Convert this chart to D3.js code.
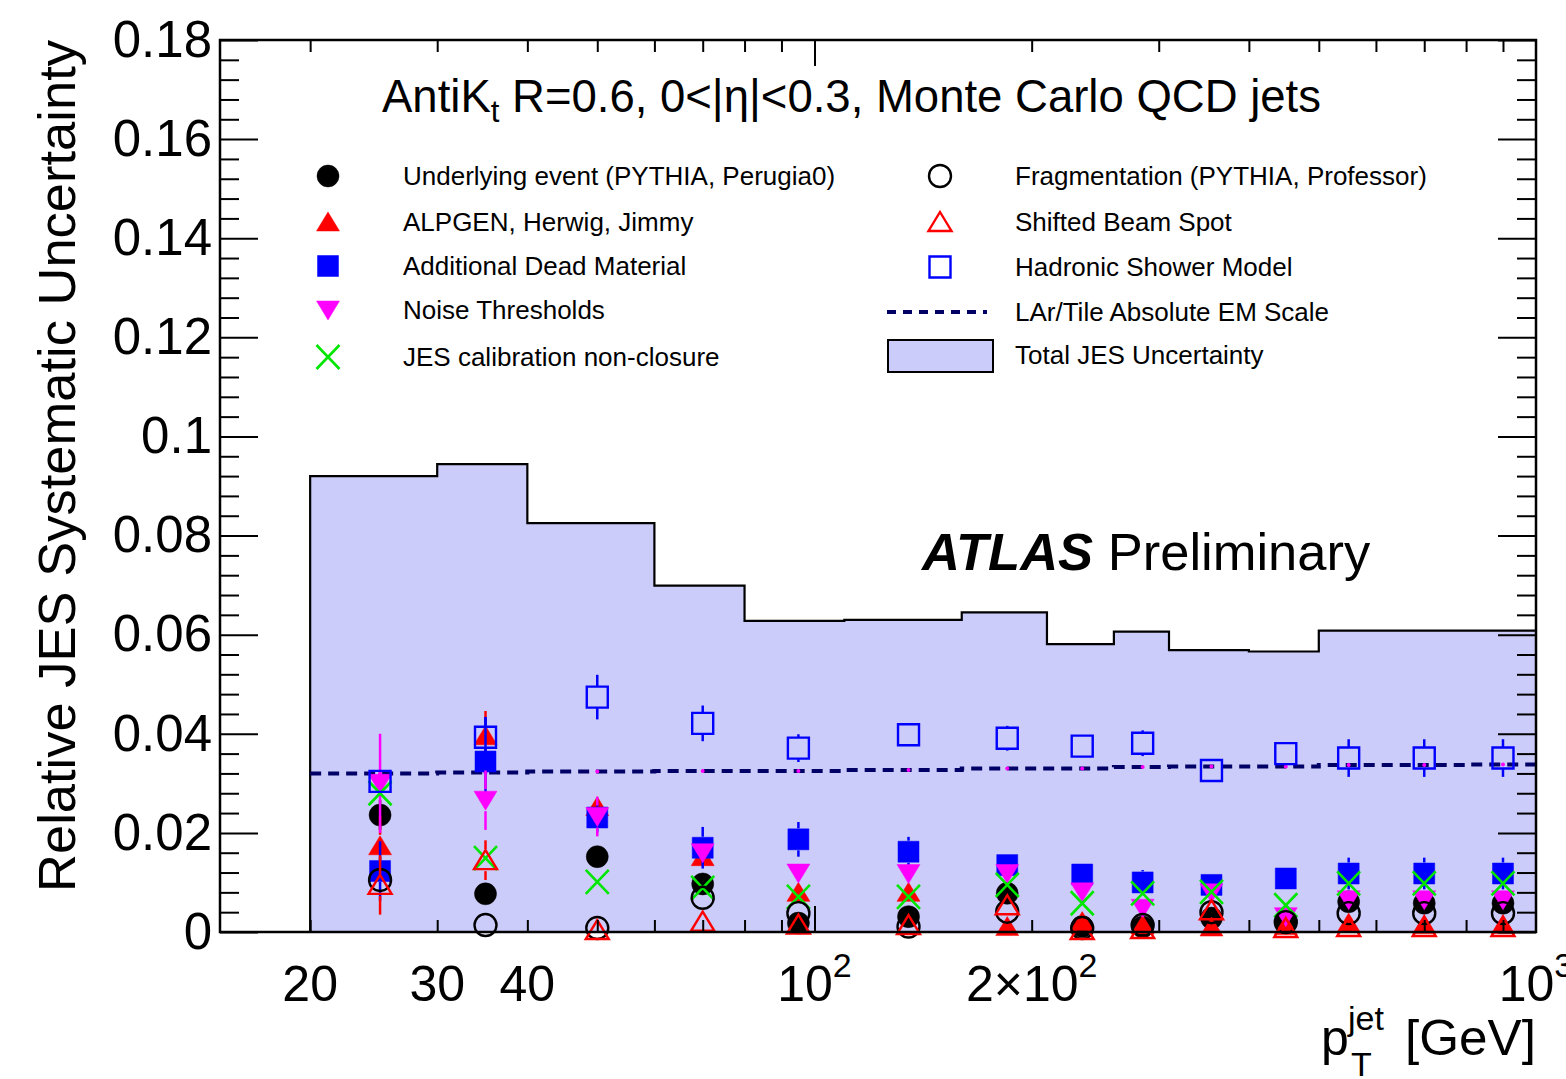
<!DOCTYPE html>
<html>
<head>
<meta charset="utf-8">
<script src="https://cdn.jsdelivr.net/npm/d3@7"></script>
<style>
body { margin: 0; background: #fff; }
text { font-family: "Liberation Sans", Arial, Helvetica, sans-serif; fill: #000; }
</style>
</head>
<body>
<div id="chart"></div>
<script>
// jet pT bins
var binEdges = [20, 30, 40, 60, 80, 110, 160, 210, 260, 310, 400, 500, 600, 800, 1000];
var ptCenters = [25, 35, 50, 70, 95, 135, 185, 235, 285, 355, 450, 550, 700, 900];

var totalJES = [0.0920, 0.0944, 0.0825, 0.0699, 0.0628, 0.0630, 0.0645, 0.0581, 0.0606, 0.0569, 0.0566, 0.0608, 0.0608, 0.0608];
var emScale = [0.0320, 0.0322, 0.0324, 0.0325, 0.0325, 0.0327, 0.0330, 0.0330, 0.0333, 0.0334, 0.0334, 0.0337, 0.0337, 0.0338];

var underlyingEvent = [0.0236, 0.0077, 0.0152, 0.0097, 0.0018, 0.0031, 0.0078, 0.0011, 0.0010, 0.0028, 0.0021, 0.0061, 0.0058, 0.0058];
var alpgen = [0.0174, 0.0396, 0.0253, 0.0152, 0.0080, 0.0080, 0.0011, 0.0021, 0.0014, 0.0010, 0.0013, 0.0018, 0.0015, 0.0015];
var deadMaterial = [0.0123, 0.0344, 0.0231, 0.0170, 0.0187, 0.0162, 0.0135, 0.0116, 0.0100, 0.0095, 0.0108, 0.0118, 0.0118, 0.0118];
var noiseThr = [0.0300, 0.0266, 0.0233, 0.0160, 0.0119, 0.0118, 0.0118, 0.0081, 0.0048, 0.0079, 0.0031, 0.0065, 0.0065, 0.0065];
var nonClosure = [0.0280, 0.0149, 0.0101, 0.0089, 0.0071, 0.0071, 0.0095, 0.0058, 0.0078, 0.0081, 0.0054, 0.0098, 0.0098, 0.0098];
var fragmentation = [0.0105, 0.0014, 0.0008, 0.0069, 0.0038, 0.0011, 0.0041, 0.0008, 0.0014, 0.0040, 0.0020, 0.0038, 0.0038, 0.0038];
var beamSpot = [0.0095, 0.0145, 0.0004, 0.0021, 0.0015, 0.0014, 0.0054, 0.0004, 0.0006, 0.0044, 0.0008, 0.0010, 0.0010, 0.0010];
var hadronic = [0.0304, 0.0393, 0.0474, 0.0421, 0.0371, 0.0398, 0.0391, 0.0375, 0.0381, 0.0326, 0.0360, 0.0351, 0.0351, 0.0351];

// symmetric errors
var underlyingErr = [0.003, 0.002, 0.002, 0.001, 0.001, 0.001, 0.001, 0.001, 0.001, 0.001, 0.001, 0.001, 0.001, 0.001];
var alpgenErr = [0.006, 0.005, 0.002, 0.001, 0.001, 0.001, 0.001, 0.001, 0.001, 0.001, 0.001, 0.001, 0.001, 0.001];
var deadErr = [0.006, 0.009, 0.003, 0.0042, 0.0035, 0.003, 0.002, 0.002, 0.0025, 0.002, 0.002, 0.0032, 0.0032, 0.0032];
var noiseErr = [0.010, 0.006, 0.004, 0.002, 0.002, 0.002, 0.002, 0.002, 0.002, 0.002, 0.002, 0.002, 0.002, 0.002];
var closureErr = [0.001, 0.001, 0.001, 0.001, 0.001, 0.001, 0.001, 0.001, 0.001, 0.001, 0.001, 0.001, 0.001, 0.001];
var fragErr = [0.002, 0.002, 0.002, 0.001, 0.001, 0.001, 0.001, 0.001, 0.001, 0.001, 0.001, 0.001, 0.001, 0.001];
var beamErr = [0.006, 0.004, 0.002, 0.001, 0.001, 0.001, 0.001, 0.001, 0.001, 0.001, 0.001, 0.001, 0.001, 0.001];
var hadronicErr = [0.002, 0.004, 0.0045, 0.0036, 0.0028, 0.002, 0.0025, 0.002, 0.0026, 0.002, 0.002, 0.0038, 0.0038, 0.0038];

var yTicks = [0, 0.02, 0.04, 0.06, 0.08, 0.1, 0.12, 0.14, 0.16, 0.18];
var xLabels = [{v: 20, base: "20"}, {v: 30, base: "30"}, {v: 40, base: "40"},
	{v: 100, base: "10", exp: "2"}, {v: 200, base: "2\u00d710", exp: "2"}, {v: 1000, base: "10", exp: "3"}];

var width = 1566,
	height = 1079,
	margin = {top: 40, right: 30, bottom: 147, left: 220};

var fillCol = "#ccccfa";

var svg = d3.select("#chart").append("svg")
	.attr("width", width)
	.attr("height", height)
	.style("background", "#fff");

var x = d3.scaleLog()
	.domain([15, 1000])
	.range([margin.left, width - margin.right]);
var y = d3.scaleLinear()
	.domain([0, 0.18])
	.range([height - margin.bottom, margin.top]);

// total uncertainty as a filled step histogram
var stepPts = binEdges.map(function(e, i){ return [e, i < totalJES.length ? totalJES[i] : totalJES[totalJES.length - 1]]; });
svg.append("path")
	.datum(stepPts)
	.attr("fill", fillCol)
	.attr("d", d3.area().curve(d3.curveStepAfter)
		.x(function(d){ return x(d[0]); })
		.y0(y(0))
		.y1(function(d){ return y(d[1]); }));

svg.append("path")
	.datum([[20, 0]].concat(stepPts))
	.attr("fill", "none")
	.attr("stroke", "#000")
	.attr("stroke-width", 2.2)
	.attr("d", d3.line().curve(d3.curveStepAfter)
		.x(function(d){ return x(d[0]); })
		.y(function(d){ return y(d[1]); }));

// LAr/Tile EM scale
var emPts = binEdges.map(function(e, i){ return [e, i < emScale.length ? emScale[i] : emScale[emScale.length - 1]]; });
svg.append("path")
	.datum(emPts)
	.attr("fill", "none")
	.attr("stroke", "#000066")
	.attr("stroke-width", 4)
	.attr("stroke-dasharray", "11,7")
	.attr("d", d3.line().curve(d3.curveStepAfter)
		.x(function(d){ return x(d[0]); })
		.y(function(d){ return y(d[1]); }));

svg.append("g").selectAll("circle")
	.data(emScale).enter()
	.append("circle")
	.attr("cx", function(d, i){ return x(ptCenters[i]); })
	.attr("cy", function(d){ return y(d); })
	.attr("r", 2)
	.attr("fill", "#ff00ff");

// marker shapes
function markerPath(shape){
	switch (shape) {
		case "circle": return "M-11,0A11,11 0 1,0 11,0A11,11 0 1,0 -11,0Z";
		case "square": return "M-10.5,-10.5H10.5V10.5H-10.5Z";
		case "tup": return "M0,-10L11.5,9H-11.5Z";
		case "tdown": return "M0,10L11.5,-9H-11.5Z";
		case "cross": return "M-11.5,-12L11.5,12M-11.5,12L11.5,-12";
	}
}

var series = [
	{name: "Underlying event (PYTHIA, Perugia0)", vals: underlyingEvent, err: underlyingErr, shape: "circle", color: "#000", filled: true},
	{name: "ALPGEN, Herwig, Jimmy", vals: alpgen, err: alpgenErr, shape: "tup", color: "#ff0000", filled: true},
	{name: "Additional Dead Material", vals: deadMaterial, err: deadErr, shape: "square", color: "#0000ff", filled: true},
	{name: "Noise Thresholds", vals: noiseThr, err: noiseErr, shape: "tdown", color: "#ff00ff", filled: true},
	{name: "JES calibration non-closure", vals: nonClosure, err: closureErr, shape: "cross", color: "#00e600", filled: false},
	{name: "Fragmentation (PYTHIA, Professor)", vals: fragmentation, err: fragErr, shape: "circle", color: "#000", filled: false},
	{name: "Shifted Beam Spot", vals: beamSpot, err: beamErr, shape: "tup", color: "#ff0000", filled: false},
	{name: "Hadronic Shower Model", vals: hadronic, err: hadronicErr, shape: "square", color: "#0000ff", filled: false}
];

function styleMarker(sel, s){
	sel.attr("d", markerPath(s.shape))
		.attr("fill", s.filled ? s.color : "none")
		.attr("stroke", s.color)
		.attr("stroke-width", s.filled ? 0.5 : (s.shape == "cross" ? 2.6 : 2.4));
}

var half = 11; // error bars stop at the marker edge, as in ROOT
series.forEach(function(s, k){
	var g = svg.append("g").attr("class", "series-" + k);
	s.vals.forEach(function(d, i){
		var cx = x(ptCenters[i]), cy = y(d),
			top = y(d + s.err[i]), bot = y(Math.max(0, d - s.err[i]));
		if (cy - top > half) {
			g.append("line").attr("x1", cx).attr("x2", cx).attr("y1", top).attr("y2", cy - half)
				.attr("stroke", s.color).attr("stroke-width", 2.5);
		}
		if (bot - cy > half) {
			g.append("line").attr("x1", cx).attr("x2", cx).attr("y1", cy + half).attr("y2", bot)
				.attr("stroke", s.color).attr("stroke-width", 2.5);
		}
	});
	g.selectAll("path")
		.data(s.vals).enter()
		.append("path")
		.attr("transform", function(d, i){ return "translate(" + x(ptCenters[i]) + "," + y(d) + ")"; })
		.call(styleMarker, s);
});

// frame and axes (ROOT style ticks inside)
svg.append("rect")
	.attr("x", margin.left)
	.attr("y", margin.top)
	.attr("width", width - margin.right - margin.left)
	.attr("height", height - margin.bottom - margin.top)
	.attr("fill", "none")
	.attr("stroke", "#000")
	.attr("stroke-width", 2.5);

var minorX = [];
[10, 100].forEach(function(dec){ for (var m = 2; m <= 9; m++) { if (m * dec >= 15) minorX.push(m * dec); } });
var majorX = [100];

function tickAxis(axis, tr, size, vals){
	var g = svg.append("g")
		.attr("transform", tr)
		.call(axis.tickValues(vals).tickSize(size).tickFormat(""));
	g.select(".domain").remove();
	g.selectAll(".tick line").attr("stroke", "#000").attr("stroke-width", 2);
	return g;
}

tickAxis(d3.axisBottom(x), "translate(0," + y(0) + ")", -12, minorX);
tickAxis(d3.axisBottom(x), "translate(0," + y(0) + ")", -26, majorX);
tickAxis(d3.axisTop(x), "translate(0," + y(0.18) + ")", -12, minorX);
tickAxis(d3.axisTop(x), "translate(0," + y(0.18) + ")", -26, majorX);

var minorY = d3.range(0, 0.1801, 0.004).filter(function(v){ return Math.abs(v / 0.02 - Math.round(v / 0.02)) > 0.01; });
tickAxis(d3.axisLeft(y), "translate(" + margin.left + ",0)", -19, minorY);
tickAxis(d3.axisRight(y), "translate(" + (width - margin.right) + ",0)", -19, minorY);
tickAxis(d3.axisRight(y), "translate(" + (width - margin.right) + ",0)", -38, yTicks);

var yAxis = svg.append("g")
	.attr("transform", "translate(" + margin.left + ",0)")
	.call(d3.axisLeft(y).tickValues(yTicks).tickSize(-38).tickPadding(8)
		.tickFormat(function(d){ return d === 0 ? "0" : String(+d.toFixed(2)); }));
yAxis.select(".domain").remove();
yAxis.selectAll(".tick line").attr("stroke", "#000").attr("stroke-width", 2);
yAxis.selectAll(".tick text")
	.style("font-family", "'Liberation Sans', Arial, sans-serif")
	.attr("font-size", 51)
	.attr("fill", "#000");

// x tick labels with exponents
var xl = svg.append("g").attr("class", "x-labels");
xLabels.forEach(function(l){
	var t = xl.append("text")
		.attr("x", x(l.v))
		.attr("y", 1001)
		.attr("text-anchor", "middle")
		.attr("font-size", 50);
	t.append("tspan").text(l.base);
	if (l.exp) {
		t.append("tspan").attr("dy", -24).attr("font-size", 34).text(l.exp);
	}
});

// axis titles
svg.append("text")
	.attr("transform", "translate(75," + margin.top + ") rotate(-90)")
	.attr("text-anchor", "end")
	.attr("font-size", 52.5)
	.text("Relative JES Systematic Uncertainty");

svg.append("text").attr("x", 1321).attr("y", 1055).attr("font-size", 50).text("p");
svg.append("text").attr("x", 1348).attr("y", 1030).attr("font-size", 34).text("jet");
svg.append("text").attr("x", 1351).attr("y", 1076).attr("font-size", 34).text("T");
svg.append("text").attr("x", 1405).attr("y", 1055).attr("font-size", 50)
	.attr("textLength", 131).attr("lengthAdjust", "spacingAndGlyphs").text("[GeV]");

// plot title
var title = svg.append("text")
	.attr("x", 382)
	.attr("y", 112)
	.attr("font-size", 45.5);
title.append("tspan").text("AntiK");
title.append("tspan").attr("dy", 10).attr("font-size", 31).text("t");
title.append("tspan").attr("dy", -10).text(" R=0.6, 0<|\u03b7|<0.3, Monte Carlo QCD jets");

var atlas = svg.append("text")
	.attr("x", 922)
	.attr("y", 570)
	.attr("font-size", 52.5);
atlas.append("tspan").attr("font-weight", "bold").attr("font-style", "italic").text("ATLAS");
atlas.append("tspan").text(" Preliminary");

// legend
var legLeft = {mx: 328, tx: 403, rows: [176, 222, 266, 310, 357]};
var legRight = {mx: 940, tx: 1015, rows: [176, 222, 267, 312, 355]};
var leg = svg.append("g").attr("class", "legend");

[0, 1, 2, 3, 4].forEach(function(k, r){
	var s = series[k];
	leg.append("path")
		.attr("transform", "translate(" + legLeft.mx + "," + legLeft.rows[r] + ")")
		.call(styleMarker, s);
	leg.append("text")
		.attr("x", legLeft.tx)
		.attr("y", legLeft.rows[r] + 9)
		.attr("font-size", 26)
		.text(s.name);
});
[5, 6, 7].forEach(function(k, r){
	var s = series[k];
	leg.append("path")
		.attr("transform", "translate(" + legRight.mx + "," + legRight.rows[r] + ")")
		.call(styleMarker, s);
	leg.append("text")
		.attr("x", legRight.tx)
		.attr("y", legRight.rows[r] + 9)
		.attr("font-size", 26)
		.text(s.name);
});
leg.append("line")
	.attr("x1", 887).attr("x2", 987)
	.attr("y1", legRight.rows[3]).attr("y2", legRight.rows[3])
	.attr("stroke", "#000066")
	.attr("stroke-width", 4)
	.attr("stroke-dasharray", "9,7");
leg.append("text")
	.attr("x", legRight.tx).attr("y", legRight.rows[3] + 9)
	.attr("font-size", 26)
	.text("LAr/Tile Absolute EM Scale");
leg.append("rect")
	.attr("x", 888).attr("y", legRight.rows[4] - 15)
	.attr("width", 105).attr("height", 32)
	.attr("fill", fillCol)
	.attr("stroke", "#000")
	.attr("stroke-width", 2);
leg.append("text")
	.attr("x", legRight.tx).attr("y", legRight.rows[4] + 9)
	.attr("font-size", 26)
	.text("Total JES Uncertainty");
</script>
</body>
</html>
